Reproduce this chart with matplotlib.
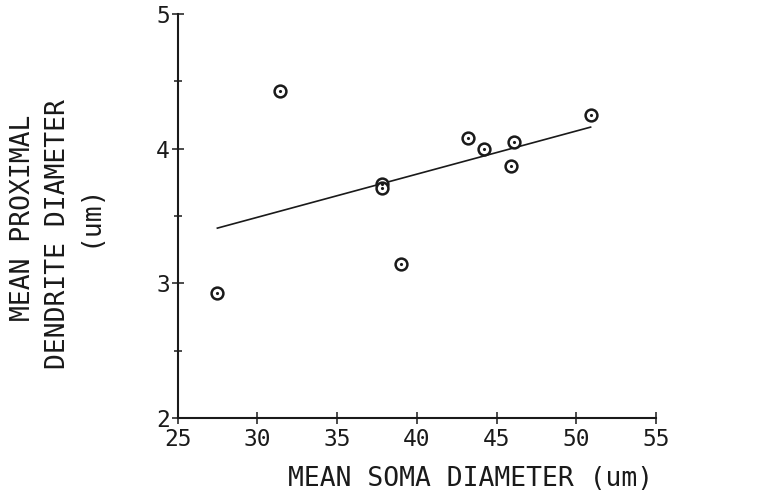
import matplotlib
matplotlib.use("Agg")
import matplotlib.pyplot as plt
import matplotlib.transforms as mtransforms

# soma vs proximal dendrite diameter
soma_diam = [27.5, 31.4, 37.8, 37.8, 39.0, 43.2, 44.2, 45.9, 46.1, 50.9]
dend_diam = [2.93, 4.43, 3.74, 3.71, 3.14, 4.08, 4.00, 3.87, 4.05, 4.25]

# regression line end points
fit_x = [27.5, 50.9]
fit_y = [3.41, 4.16]

x_ticks = [25, 30, 35, 40, 45, 50, 55]
y_ticks = [2, 3, 4, 5]
y_minor = [2.5, 3.5, 4.5]

ink = '#1a1a1a'
mono = 'DejaVu Sans Mono'

fig = plt.figure(figsize=(7.68, 4.99), dpi=100)
ax = fig.add_axes([177.5 / 768, 1 - 418 / 499, (656 - 177.5) / 768, (418 - 14) / 499])

ax.plot(fit_x, fit_y, color=ink, linewidth=1.2, zorder=2)
ax.plot(soma_diam, dend_diam, linestyle='none', marker='o', markersize=8.5,
        markerfacecolor='white', markeredgecolor=ink, markeredgewidth=1.8, zorder=3)
ax.plot(soma_diam, dend_diam, linestyle='none', marker='.', markersize=2.5,
        color=ink, zorder=4)

ax.set_xlim(25, 55)
ax.set_ylim(2, 5)
ax.set_xticks(x_ticks)
ax.set_yticks(y_ticks)
ax.set_yticks(y_minor, minor=True)
ax.set_xticklabels([str(v) for v in x_ticks], fontsize=16.5, family=mono, color=ink)
ax.set_yticklabels([str(v) for v in y_ticks], fontsize=16.5, family=mono, color=ink)

# the plotter put the bottom "2" slightly above the axis corner
lbl = ax.get_yticklabels()[0]
lbl.set_transform(lbl.get_transform() + mtransforms.ScaledTranslation(0, 3 / 72, fig.dpi_scale_trans))

for side in ['top', 'right']:
    ax.spines[side].set_visible(False)
for side in ['left', 'bottom']:
    ax.spines[side].set_linewidth(1.5)
    ax.spines[side].set_color(ink)
    ax.spines[side].set_clip_on(False)

ax.tick_params(axis='x', which='major', direction='inout', length=8, width=1.1,
               color=ink, pad=3)
ax.tick_params(axis='y', which='major', direction='inout', length=9, width=1.1,
               color=ink, pad=1)
ax.tick_params(axis='y', which='minor', direction='inout', length=6, width=1.1,
               color=ink)

# axis titles placed by hand, like the original plotter output
fig.text(471 / 768, 1 - 479 / 499, 'MEAN SOMA DIAMETER (um)', fontsize=19,
         family=mono, color=ink, ha='center', va='center')
fig.text(23 / 768, 1 - 218 / 499, 'MEAN PROXIMAL', fontsize=19, family=mono,
         color=ink, rotation=90, ha='center', va='center')
fig.text(58 / 768, 1 - 234 / 499, 'DENDRITE DIAMETER', fontsize=19, family=mono,
         color=ink, rotation=90, ha='center', va='center')
fig.text(89 / 768, 1 - 215 / 499, '(um)', fontsize=19, family=mono,
         color=ink, rotation=90, ha='center', va='center')

fig.savefig('out.png', dpi=100)
